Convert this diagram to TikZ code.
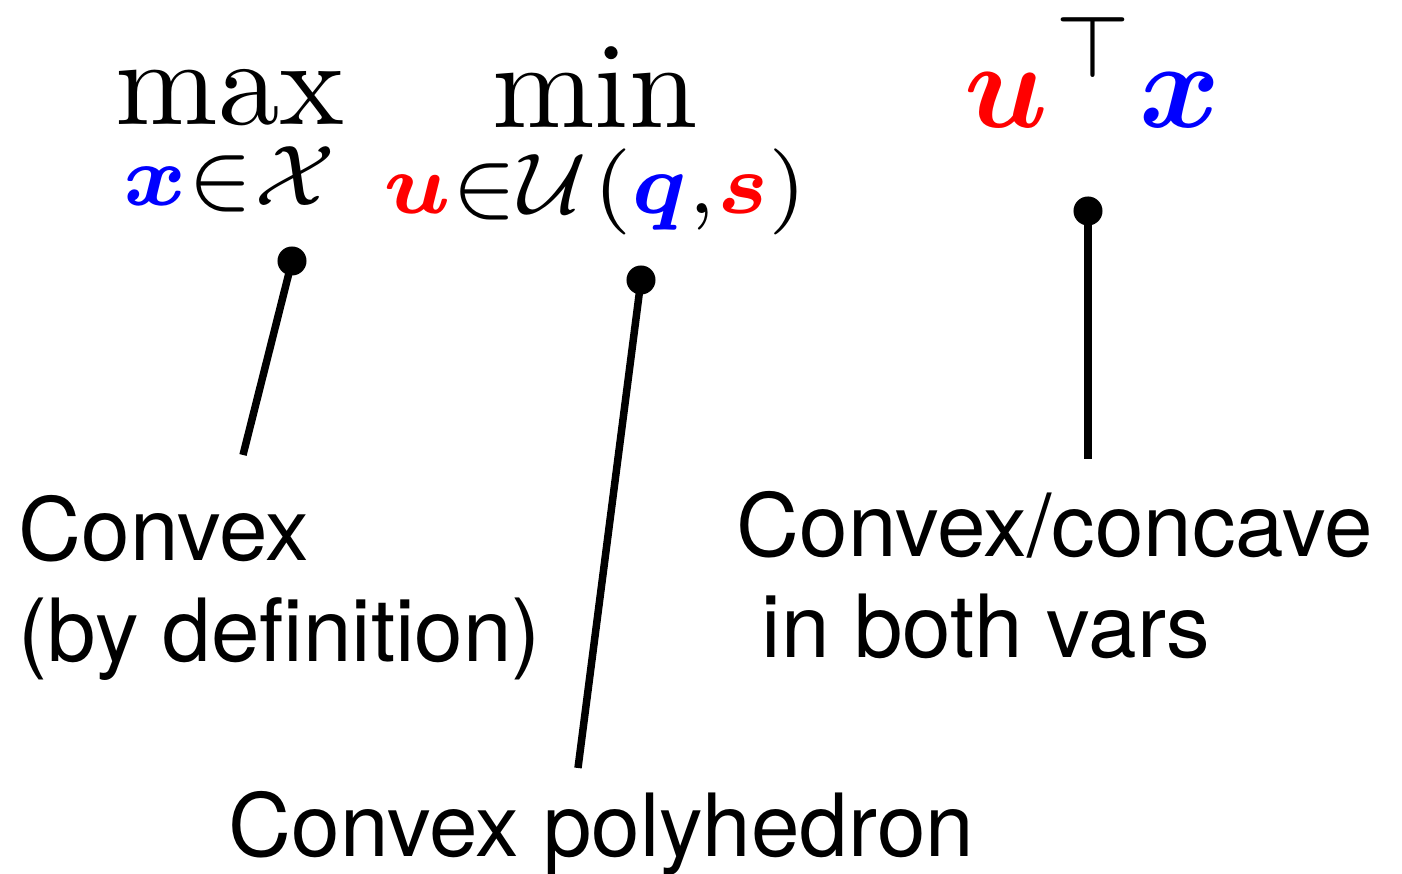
\documentclass[tikz,border=0pt]{standalone}
\usepackage{fontspec}
\usepackage{bm}
\usepackage{graphicx}
\newfontfamily\labfont{TeX Gyre Heros}
\newcommand{\bigmath}[1]{\scalebox{3.5}{$\displaystyle #1$}}
\begin{document}
\begin{tikzpicture}[x=0.01cm,y=-0.01cm,
  mth/.style={inner sep=0pt},
  lab/.style={inner sep=0pt,font=\labfont\fontsize{24.8}{28.45}\selectfont},
  dotnode/.style={circle,fill=black,inner sep=0pt,minimum size=0.29cm},
  conn/.style={line width=2.13pt,line cap=butt}]
\useasboundingbox (0,0) rectangle (1402,874);
% formula
\node[mth,anchor=base] (mx) at (230,125) {\bigmath{\max_{\textcolor{blue}{\bm{x}}\in\mathcal{X}}}};
\node[mth,anchor=base] (mn) at (595,128) {\bigmath{\min_{\textcolor{red}{\bm{u}}\in\mathcal{U}\mkern1mu(\textcolor{blue}{\bm{q}},\textcolor{red}{\bm{s}})}}};
\node[mth,anchor=base west] (ut) at (964,128) {\bigmath{\textcolor{red}{\bm{u}}^{\mkern1mu\top}}};
\node[mth,anchor=base west] (xv) at (1139,128) {\bigmath{\textcolor{blue}{\bm{x}}}};
% labels
\node[lab,anchor=base west] (c1) at (18,561) {\begin{tabular}[t]{@{}l@{}}Convex\\(by definition)\end{tabular}};
\node[lab,anchor=base west] (c2) at (736,557) {\begin{tabular}[t]{@{}l@{}}Convex/concave\\\hspace*{0.29em}in both vars\end{tabular}};
\node[lab,anchor=base west] (c3) at (228,857) {Convex polyhedron};
% connectors
\node[dotnode] (d1) at (292,261) {};
\node[dotnode] (d2) at (641,280) {};
\node[dotnode] (d3) at (1088,211) {};
\coordinate (e1) at (243,455);
\coordinate (e2) at (578,768);
\coordinate (e3) at (1088,459);
\draw[conn] (d1.center) -- (e1);
\draw[conn] (d2.center) -- (e2);
\draw[conn] (d3.center) -- (e3);
\end{tikzpicture}
\end{document}
